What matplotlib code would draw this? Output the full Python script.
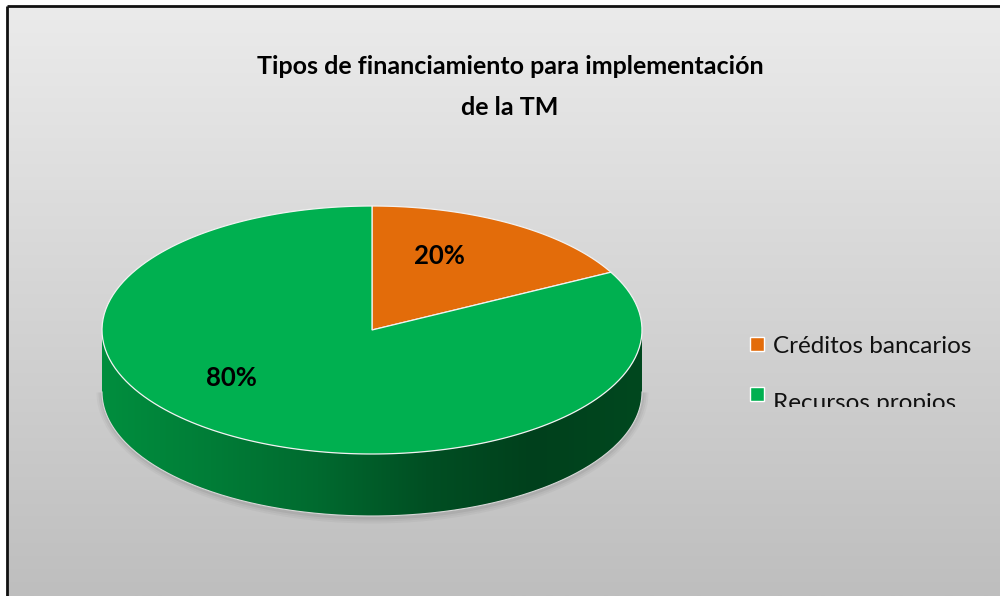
import numpy as np
import matplotlib
matplotlib.use('Agg')
import matplotlib.pyplot as plt
from matplotlib.patches import Polygon, Rectangle
from matplotlib.colors import LinearSegmentedColormap
from matplotlib.transforms import Bbox

# datos
categorias = ['Créditos bancarios', 'Recursos propios']
valores = [20, 80]
colores = ['#E36C0A', '#00B050']
etiquetas = ['20%', '80%']
titulo = ['Tipos de financiamiento para implementación', 'de la TM']

W, H = 1000, 596
fig = plt.figure(figsize=(W / 100, H / 100), dpi=100)
ax = fig.add_axes([0, 0, 1, 1])
ax.set_xlim(0, W)
ax.set_ylim(H, 0)
ax.axis('off')

# fondo con degradado y borde
fondo = LinearSegmentedColormap.from_list('fondo', ['#ebebeb', '#bebebe'])
grad = np.linspace(0, 1, 256).reshape(-1, 1)
ax.imshow(grad, cmap=fondo, extent=(7, W, H, 6), aspect='auto', zorder=0)
ax.plot([7, 7], [H, 6], color='#111111', lw=2, zorder=1, solid_capstyle='butt')
ax.plot([7, W], [6, 6], color='#111111', lw=2, zorder=1, solid_capstyle='butt')

# geometria del pastel 3d (perspectiva: c comprime el fondo)
cx, cy, rx, ry, prof, c = 372, 330, 270, 124, 62, 1.62

def proy(t):
    return np.arctan2(c * np.sin(t), np.cos(t))

def arco(t0, t1, dy=0, n=200):
    t = proy(np.radians(np.linspace(t0, t1, n)))
    return np.column_stack([cx + rx * np.cos(t), cy - ry * np.sin(t) + dy])

total = float(sum(valores))
angulos = [90]
for v in valores:
    angulos.append(angulos[-1] - v / total * 360)

lado = LinearSegmentedColormap.from_list(
    'lado', ['#008e3e', '#007d37', '#006a2f', '#004f23', '#00401c', '#00481f'])
gx = np.linspace(0, 1, 256).reshape(1, -1)

# sombra suave bajo el pastel
for k, a in enumerate([0.05, 0.04, 0.03]):
    t = np.radians(np.linspace(180, 360, 200))
    sx = cx + (rx + 2 + 2 * k) * np.cos(t)
    sy = cy + prof - (ry + 3 + 2 * k) * np.sin(t)
    ax.fill_between(sx, cy + prof, sy, color='black', alpha=a, lw=0, zorder=1.5)

# caras laterales (solo la mitad frontal)
for i in range(len(valores)):
    a0, a1 = angulos[i], angulos[i + 1]
    for s in (-360, 0, 360):
        lo = max(a1, -180 + s)
        hi = min(a0, 0 + s)
        if lo < hi:
            sup = arco(hi, lo)
            inf = arco(lo, hi, dy=prof)
            pts = np.vstack([sup, inf])
            poly = Polygon(pts, closed=True, facecolor='none', edgecolor='none', zorder=2)
            ax.add_patch(poly)
            im = ax.imshow(gx, cmap=lado, extent=(cx - rx, cx + rx, cy + ry + prof, cy - ry),
                           aspect='auto', zorder=2)
            im.set_clip_path(poly)
            ax.plot(inf[:, 0], inf[:, 1], color='#d8d8d8', lw=0.8, zorder=3)

# caras superiores
for i in range(len(valores)):
    a0, a1 = angulos[i], angulos[i + 1]
    pts = np.vstack([[cx, cy], arco(a0, a1)])
    ax.add_patch(Polygon(pts, closed=True, facecolor=colores[i], edgecolor='#f2f2f2',
                         lw=0.9, zorder=4))

# etiquetas de porcentaje (desplazamiento relativo al radio, como lo coloca Excel)
desp = [(0.25, -0.60), (-0.52, 0.39)]
for i in range(len(valores)):
    x = cx + desp[i][0] * rx
    y = cy + desp[i][1] * ry
    ax.text(x, y, etiquetas[i], ha='center', va='center', fontsize=18.5,
            fontweight='bold', family='Lato', color='black', zorder=5)

# titulo
for k, linea in enumerate(titulo):
    ax.text(510, 74 + 41 * k, linea, ha='center', va='baseline', fontsize=18,
            fontweight='bold', family='Lato', color='black', zorder=5)

# leyenda (recortada abajo como en el original)
caja = Bbox.from_extents(0, H - 407, W, H)
for i, nombre in enumerate(categorias):
    yq = 337 + i * 50
    ax.add_patch(Rectangle((750, yq), 14, 14, facecolor=colores[i], edgecolor='white',
                           lw=1, zorder=5))
    t = ax.text(773, 353 + i * 57, nombre, ha='left', va='baseline', fontsize=17.5,
                family='Lato', color='#111111', zorder=5)
    t.set_clip_on(True)
    t.set_clip_box(caja)

fig.savefig('out.png', dpi=100)
